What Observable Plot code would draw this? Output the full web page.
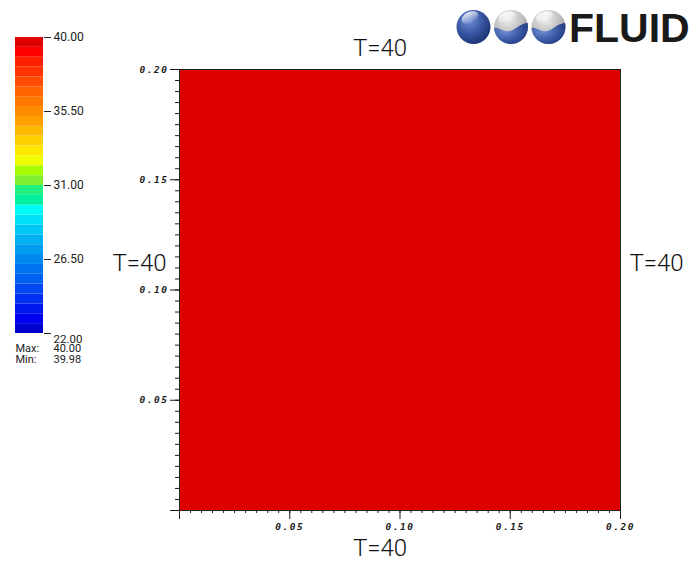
<!DOCTYPE html>
<html>
<head>
<meta charset="utf-8">
<script src="https://cdn.jsdelivr.net/npm/d3@7"></script>
<script src="https://cdn.jsdelivr.net/npm/@observablehq/plot@0.6"></script>
<style>
  html, body { margin: 0; padding: 0; background: #fff; }
  #chart { position: relative; width: 692px; height: 561px; overflow: hidden; background: #fff; }
  #chart > svg { position: absolute; left: 0; top: 0; }
  g[font-family^="DejaVu Sans Mono"] { letter-spacing: 1.5px; }
</style>
</head>
<body>
<div id="chart"></div>
<script>
// Temperature colour map: 30 bands between 22 and 40 (bottom to top)
const bandEdges = [22.0, 22.6, 23.2, 23.8, 24.4, 25.0, 25.6, 26.2, 26.8, 27.4,
                   28.0, 28.6, 29.2, 29.8, 30.4, 31.0, 31.6, 32.2, 32.8, 33.4,
                   34.0, 34.6, 35.2, 35.8, 36.4, 37.0, 37.6, 38.2, 38.8, 39.4, 40.0];
const bandColors = ["#0000d0", "#0000f0", "#0018f0", "#0030f0", "#0048f0", "#0060f0",
                    "#0074f0", "#0088f0", "#009cf0", "#00b0f0", "#00c8f4", "#00e0f8",
                    "#00fcf8", "#00f0a0", "#20f080", "#80f030", "#a8fc00", "#f0fc00",
                    "#ffe800", "#ffd000", "#ffb800", "#ffa000", "#ff8c00", "#ff7800",
                    "#ff6400", "#ff4c00", "#ff3400", "#ff2000", "#ff0000", "#de0000"];
const colorbarTicks = [22, 26.5, 31, 35.5, 40];
const statLabels = ["Max:", "Min:"];
const statValues = [40.00, 39.98];

// Square domain [0, 0.2] x [0, 0.2] and its temperature field
const majorTicks = [0, 0.05, 0.10, 0.15, 0.20];
const minorTicks = d3.range(0, 41).map(i => i * 0.005);
const fieldCells = [{x1: 0, x2: 0.2, y1: 0, y2: 0.2, T: 40}];

// Dirichlet boundary conditions on the four walls
const boundarySides = ["top", "bottom", "left", "right"];
const boundaryTemps = [40, 40, 40, 40];

const colorScale = {
  type: "threshold",
  domain: bandEdges.slice(1, -1),
  range: bandColors
};

const tickFont = {
  fontFamily: "DejaVu Sans Mono",
  fontSize: 9.5,
  fontWeight: "bold",
  fontStyle: "italic"
};
const fmt = d => (d === 0 ? "" : d.toFixed(2));
const blank = () => "";

const bcFont = {fontFamily: "Roboto, sans-serif", fontWeight: 300, fontSize: 24, fill: "#111"};
const bcOffsets = {
  top:    {frameAnchor: "top",    dx: -20, dy: -21},
  bottom: {frameAnchor: "bottom", dx: -20, dy: 37.5},
  left:   {frameAnchor: "left",   dx: -40, dy: -26.5},
  right:  {frameAnchor: "right",  dx: 36,  dy: -27}
};
const bcMarks = boundarySides.map((side, i) =>
  Plot.text([`T=${boundaryTemps[i]}`], {
    ...bcOffsets[side], ...bcFont, text: d => d, textAnchor: "middle", lineAnchor: "middle"
  })
);

const main = Plot.plot({
  width: 692,
  height: 561,
  marginLeft: 179,
  marginRight: 72,
  marginTop: 69,
  marginBottom: 51,
  x: {domain: [0, 0.2]},
  y: {domain: [0, 0.2]},
  color: colorScale,
  style: {background: "transparent", color: "#1a1a1a", overflow: "visible"},
  marks: [
    Plot.rect(fieldCells, {x1: "x1", x2: "x2", y1: "y1", y2: "y2", fill: "T"}),
    Plot.frame({stroke: "#222"}),
    Plot.axisX(minorTicks, {tickSize: 3, tickFormat: blank, label: null}),
    Plot.axisX(majorTicks, {tickSize: 9, tickPadding: 4, tickFormat: fmt, label: null, ...tickFont}),
    Plot.axisY(minorTicks, {tickSize: 4, tickFormat: blank, label: null}),
    Plot.axisY(majorTicks, {tickSize: 9, tickPadding: 2, tickFormat: fmt, label: null, ...tickFont}),
    ...bcMarks
  ]
});

// Colour bar with its ticks and the field's extremes
const bands = bandColors.map((c, i) => ({lo: bandEdges[i], hi: bandEdges[i + 1]}));
const barFont = {fontFamily: "Roboto, sans-serif", fontSize: 12, fill: "#222"};
const statFont = {fontFamily: "Roboto, sans-serif", fontSize: 11, fill: "#222"};
const bar = Plot.plot({
  width: 100,
  height: 370,
  marginLeft: 15,
  marginRight: 57,
  marginTop: 37,
  marginBottom: 37,
  x: {domain: [0, 1], axis: null},
  y: {domain: [22, 40], axis: null},
  color: colorScale,
  style: {background: "transparent", color: "#222", overflow: "visible"},
  marks: [
    Plot.rect(bands, {x1: 0, x2: 1, y1: "lo", y2: "hi", fill: d => (d.lo + d.hi) / 2}),
    Plot.axisY(colorbarTicks, {
      anchor: "right", tickSize: 7, tickPadding: 3, label: null,
      tickFormat: d => (d === 22 ? "" : d.toFixed(2)), ...barFont
    }),
    Plot.axisY([22], {
      anchor: "right", tickSize: 0, tickPadding: 10, dy: 6, label: null,
      tickFormat: d => d.toFixed(2), ...barFont, fontSize: 11.5
    }),
    ...statLabels.map((label, i) =>
      Plot.text([label], {frameAnchor: "bottom-left", dy: 18 + i * 11, text: d => d,
        textAnchor: "start", ...statFont})
    ),
    ...statValues.map((v, i) =>
      Plot.text([v], {frameAnchor: "bottom-right", dx: 10, dy: 18 + i * 11, text: d => d.toFixed(2),
        textAnchor: "start", ...statFont})
    )
  ]
});

const chart = document.getElementById("chart");
chart.appendChild(main);
chart.appendChild(bar);

// FLUID logo
const logo = `
<svg width="242" height="52" viewBox="0 0 242 52" xmlns="http://www.w3.org/2000/svg">
  <defs>
    <radialGradient id="ballBlue" cx="0.38" cy="0.32" r="0.75">
      <stop offset="0" stop-color="#6f8fd4"/>
      <stop offset="0.55" stop-color="#34529e"/>
      <stop offset="1" stop-color="#1a2f6c"/>
    </radialGradient>
    <radialGradient id="ballSilver" cx="0.4" cy="0.25" r="0.8">
      <stop offset="0" stop-color="#f2f2f2"/>
      <stop offset="0.6" stop-color="#b9b9b9"/>
      <stop offset="1" stop-color="#8a8a8a"/>
    </radialGradient>
    <linearGradient id="shine" x1="0" y1="0" x2="0" y2="1">
      <stop offset="0" stop-color="#fff" stop-opacity="0.85"/>
      <stop offset="1" stop-color="#fff" stop-opacity="0"/>
    </linearGradient>
    <clipPath id="b2"><circle cx="61" cy="27" r="17"/></clipPath>
    <clipPath id="b3"><circle cx="98.5" cy="27" r="17"/></clipPath>
  </defs>
  <circle cx="23.5" cy="27" r="17" fill="url(#ballBlue)"/>
  <ellipse cx="20" cy="17.5" rx="9" ry="5.5" transform="rotate(-25 20 17.5)" fill="url(#shine)"/>
  <circle cx="61" cy="27" r="17" fill="url(#ballSilver)"/>
  <path clip-path="url(#b2)" fill="url(#ballBlue)" d="M40 29 C48 25 52 33 60 31 C67 29 71 22 80 23 L80 48 L40 48 Z"/>
  <ellipse cx="57" cy="17" rx="9" ry="5" transform="rotate(-20 57 17)" fill="url(#shine)"/>
  <circle cx="98.5" cy="27" r="17" fill="url(#ballSilver)"/>
  <path clip-path="url(#b3)" fill="url(#ballBlue)" d="M77.5 29 C85.5 25 89.5 33 97.5 31 C104.5 29 108.5 22 117.5 23 L117.5 48 L77.5 48 Z"/>
  <ellipse cx="94.5" cy="17" rx="9" ry="5" transform="rotate(-20 94.5 17)" fill="url(#shine)"/>
  <text x="119" y="42" font-family="'Liberation Sans', Arial, sans-serif" font-weight="bold" font-size="41"
        fill="#1a1a1a">FLUID</text>
</svg>`;
chart.insertAdjacentHTML("beforeend", logo);
chart.lastElementChild.style.position = "absolute";
chart.lastElementChild.style.left = "450px";
chart.lastElementChild.style.top = "0px";
</script>
</body>
</html>
